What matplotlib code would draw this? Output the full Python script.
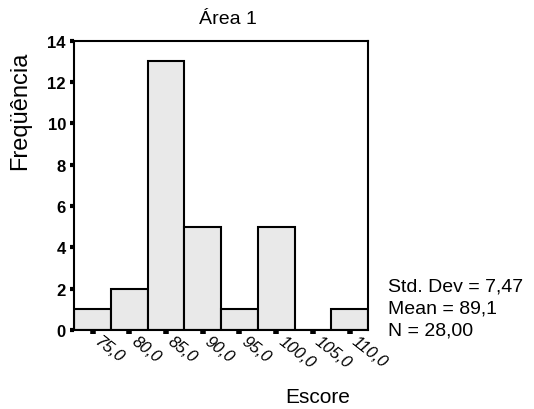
import matplotlib
matplotlib.use("Agg")
import matplotlib.pyplot as plt
from matplotlib.transforms import ScaledTranslation

plt.rcParams['font.family'] = ['Liberation Sans', 'DejaVu Sans']

bin_centers = [75, 80, 85, 90, 95, 100, 105, 110]
counts = [1, 2, 13, 5, 1, 5, 0, 1]
tick_labels = ["75,0", "80,0", "85,0", "90,0", "95,0", "100,0", "105,0", "110,0"]
y_ticks = [0, 2, 4, 6, 8, 10, 12, 14]
stats_lines = ["Std. Dev = 7,47", "Mean = 89,1", "N = 28,00"]

fig = plt.figure(figsize=(5.34, 4.10), dpi=100)
ax = fig.add_axes([0.139, 0.193, 0.550, 0.705])

ax.bar(bin_centers, counts, width=5, color="#e9e9e9", edgecolor="black", linewidth=1.5)
ax.set_xlim(72.5, 112.5)
ax.set_ylim(0, 14)
ax.set_yticks(y_ticks)
ax.set_yticklabels([str(v) for v in y_ticks], fontweight="bold", fontsize=12)
ax.set_xticks(bin_centers)
ax.set_xticklabels([])
offset = ScaledTranslation(4 / 100, -9 / 100, fig.dpi_scale_trans)
for xc, lab in zip(bin_centers, tick_labels):
    ax.text(xc, 0, lab, rotation=-38, ha="left", va="center",
            rotation_mode="anchor", fontsize=12, style="italic",
            transform=ax.get_xaxis_transform() + offset, clip_on=False)
ax.tick_params(axis="y", direction="out", length=3, width=3, pad=3)
ax.tick_params(axis="x", direction="out", length=3, width=4, pad=6)
for s in ax.spines.values():
    s.set_linewidth(1.5)

fig.text(228 / 534, 1 - 20 / 410, "Área 1", ha="center", va="center", fontsize=14)
fig.text(20 / 534, 1 - 111 / 410, "Freqüência", ha="center", va="center",
         rotation=90, fontsize=17)
fig.text(318 / 534, 1 - 398 / 410, "Escore", ha="center", va="center", fontsize=15)
for i, line in enumerate(stats_lines):
    fig.text(388 / 534, 1 - (287 + 22 * i) / 410, line, ha="left", va="center",
             fontsize=14)

fig.savefig("out.png", dpi=100)
